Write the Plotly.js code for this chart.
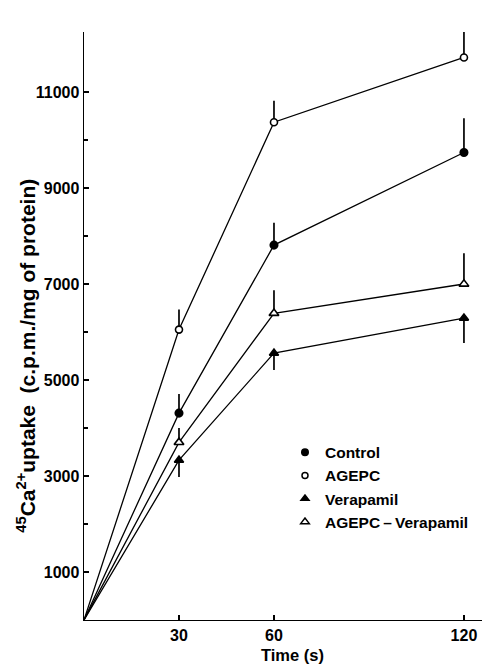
<!DOCTYPE html>
<html>
<head>
<meta charset="utf-8">
<script src="https://cdn.plot.ly/plotly-3.0.1.min.js"></script>
<style>html,body{margin:0;padding:0;background:#fff;}#chart{width:482px;height:665px;}</style>
</head>
<body>
<div id="chart"></div>
<script>
// Time points (s)
var time = [0, 30, 60, 120];
// Series values (c.p.m./mg of protein)
var control = [0, 4310, 7810, 9740];
var agepc = [0, 6050, 10370, 11720];
var verapamil = [0, 3330, 5560, 6290];
var agepcVerapamil = [0, 3700, 6390, 7000];
// Error bars (upward for most series, downward for Verapamil)
var controlErrUp = [0, 400, 465, 715];
var agepcErrUp = [0, 420, 450, 930];
var verapamilErrDown = [0, 350, 350, 520];
var agepcVerapamilErrUp = [0, 300, 480, 640];
var zeros = [0, 0, 0, 0];

var seriesNames = ['Control', 'AGEPC', 'Verapamil', 'AGEPC\u2009\u2013\u2009Verapamil'];
var yTickVals = [1000, 3000, 5000, 7000, 9000, 11000];
var yMinorVals = [2000, 4000, 6000, 8000, 10000];
var xTickVals = [30, 60, 120];

var FONT = 'Liberation Sans, Arial, Helvetica, sans-serif';
var ink = '#000';

var symbols = ['circle', 'circle', 'triangle-up', 'triangle-up'];
var fills = [ink, '#fff', ink, '#fff'];
var sizes = [7.5, 7, 8, 8.5];

function series(y, up, down, i) {
  return {
    x: time, y: y, mode: 'lines+markers', name: seriesNames[i], showlegend: false,
    line: {color: ink, width: 1.3},
    marker: {symbol: symbols[i], size: time.map(function (t) { return t === 0 ? 0 : sizes[i]; }),
             color: fills[i], opacity: 1, line: {color: ink, width: 1.6}},
    error_y: {type: 'data', symmetric: false, array: up, arrayminus: down,
              color: ink, thickness: 1.7, width: 0},
    cliponaxis: false
  };
}
function legendItem(i) {
  return {
    x: [null], y: [null], mode: 'markers', name: seriesNames[i], showlegend: true,
    legendgroup: 'g' + i,
    marker: {symbol: symbols[i], size: sizes[i] - 1, color: fills[i], opacity: 1, line: {color: ink, width: 1.5}}
  };
}

var data = [
  series(control, controlErrUp, zeros, 0),
  series(agepc, agepcErrUp, zeros, 1),
  series(verapamil, zeros, verapamilErrDown, 2),
  series(agepcVerapamil, agepcVerapamilErrUp, zeros, 3)
];
for (var i = 0; i < 4; i++) data.push(legendItem(i));

var layout = {
  width: 482, height: 665,
  margin: {l: 84, r: 0, t: 32, b: 45},
  paper_bgcolor: '#fff', plot_bgcolor: '#fff',
  font: {family: FONT, color: ink, size: 15, weight: 'bold'},
  showlegend: true,
  legend: {x: 0.505, xanchor: 'left', y: 0.3134, yanchor: 'top',
           font: {family: FONT, size: 15.5, weight: 'bold', color: ink},
           traceorder: 'grouped', tracegroupgap: 0, bgcolor: 'rgba(0,0,0,0)'},
  xaxis: {
    range: [0, 125.7], showgrid: false, zeroline: false,
    showline: true, linecolor: ink, linewidth: 1.4,
    tickmode: 'array', tickvals: xTickVals, ticktext: xTickVals.map(String),
    ticks: 'inside', ticklen: 5, tickwidth: 1.3, tickcolor: ink,
    tickfont: {family: FONT, size: 16, weight: 'bold', color: ink}
  },
  yaxis: {
    range: [0, 12250], showgrid: false, zeroline: false,
    showline: true, linecolor: ink, linewidth: 1.4,
    tickmode: 'array', tickvals: yTickVals, ticktext: yTickVals.map(String),
    ticks: 'inside', ticklen: 5, tickwidth: 1.3, tickcolor: ink,
    tickfont: {family: FONT, size: 16, weight: 'bold', color: ink},
    minor: {tickvals: yMinorVals, ticks: 'inside', ticklen: 4, tickwidth: 1.2, tickcolor: ink, showgrid: false}
  },
  annotations: [{
    xref: 'paper', yref: 'paper', x: -0.145, y: 0.45, xanchor: 'center', yanchor: 'middle',
    textangle: -90, showarrow: false,
    text: '<sup>45</sup>Ca<sup>2+</sup>uptake  (c.p.m./mg of protein)',
    font: {family: FONT, size: 21, weight: 'bold', color: ink}
  }, {
    xref: 'paper', yref: 'paper', x: 0.523, y: -0.0595, xanchor: 'center', yanchor: 'middle',
    showarrow: false, text: 'Time (s)', font: {family: FONT, size: 16.5, weight: 'bold', color: ink}
  }]
};

Plotly.newPlot('chart', data, layout, {displayModeBar: false, staticPlot: true});
</script>
</body>
</html>
